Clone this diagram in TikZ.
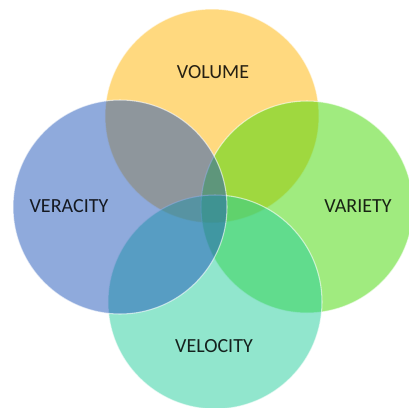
\documentclass[tikz,border=0pt]{standalone}
\usepackage{fontspec}
\setmainfont{Carlito}
\usepackage{tikz}

\definecolor{volcol}{RGB}{255,179,0}
\definecolor{vercol}{RGB}{31,85,185}
\definecolor{varcol}{RGB}{65,215,0}
\definecolor{velcol}{RGB}{35,205,155}

\tikzset{
	bubble/.style={fill opacity=0.5, draw=white, draw opacity=0.6, line width=0.6pt},
	vlabel/.style={font=\fontsize{11.4}{13}\selectfont, text=black, text opacity=0.85}
}

\begin{document}
\begin{tikzpicture}
				\useasboundingbox (0, 0) rectangle (8.18, -8.14);
				\clip (0, 0) rectangle (8.18, -8.14);
				
				\coordinate (VO) at (4.24, -2.32);
				\coordinate (VE) at (2.40, -4.14);
				\coordinate (VA) at (6.14, -4.14);
				\coordinate (VL) at (4.30, -6.04);
				
				\filldraw[bubble, fill=volcol] (VO) circle (2.14);
				\filldraw[bubble, fill=varcol] (VA) circle (2.12);
				\filldraw[bubble, fill=velcol] (VL) circle (2.14);
				\filldraw[bubble, fill=vercol] (VE) circle (2.14);
				
				\node[vlabel] (volume) at (4.26, -1.44) {VOLUME};
				\node[vlabel] (veracity) at (1.38, -4.12) {VERACITY};
				\node[vlabel] (variety) at (7.16, -4.12) {VARIETY};
				\node[vlabel] (velocity) at (4.28, -6.92) {VELOCITY};
			\end{tikzpicture}
\end{document}
